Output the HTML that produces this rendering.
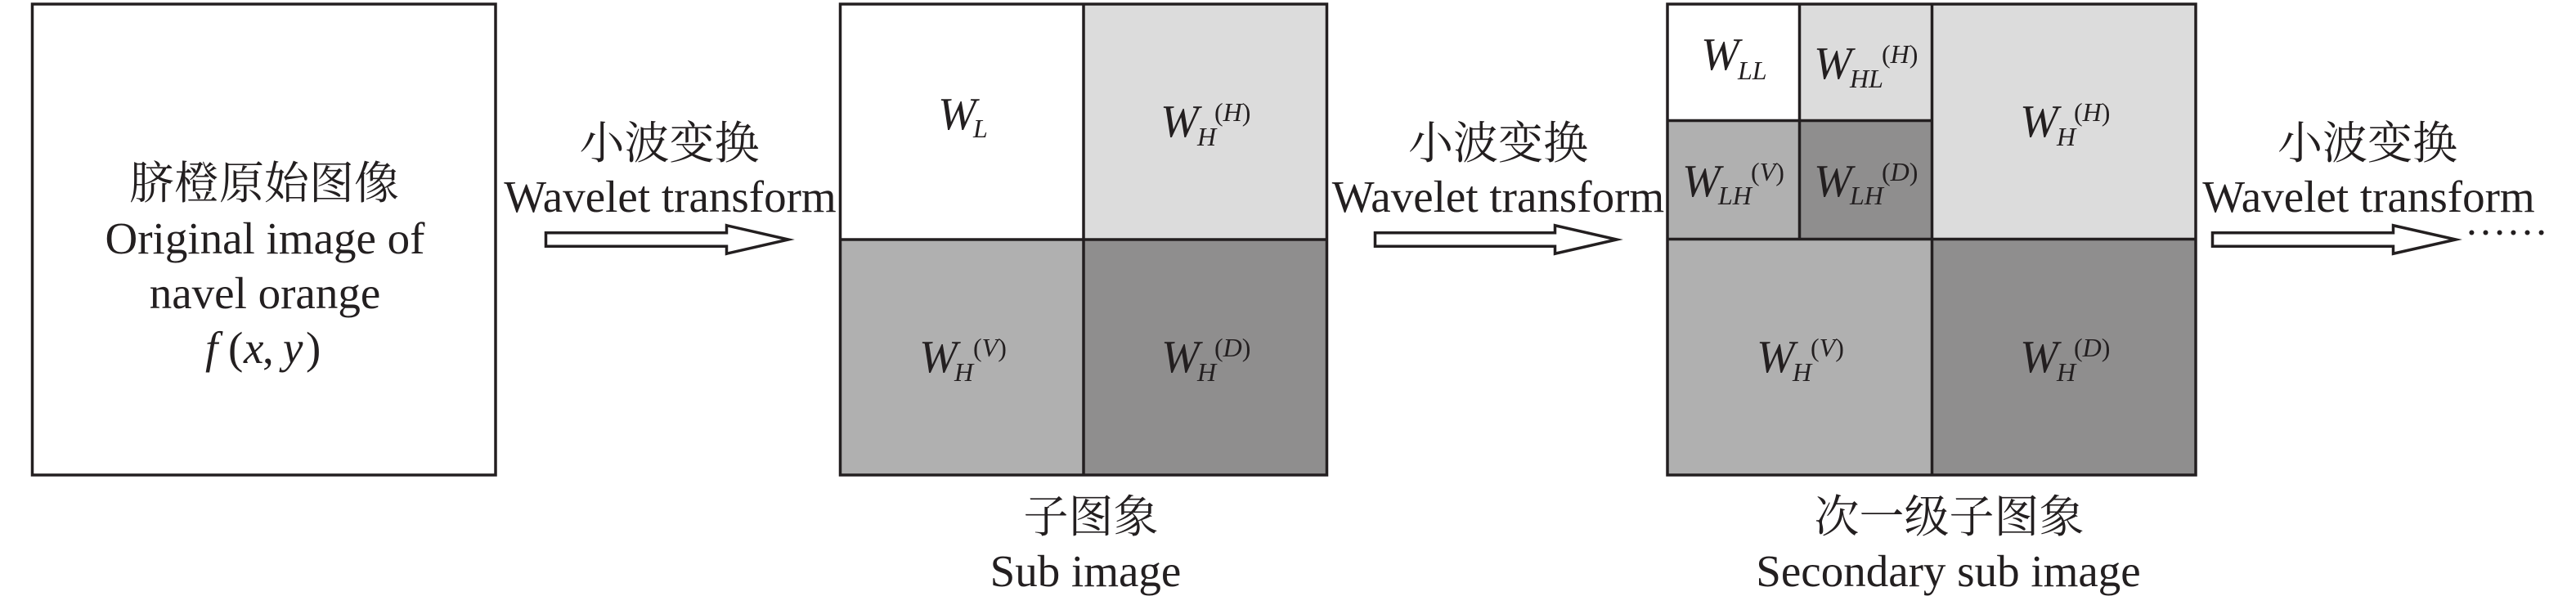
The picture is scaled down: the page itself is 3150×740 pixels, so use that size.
<!DOCTYPE html>
<html>
<head>
<meta charset="utf-8">
<style>
  html, body { margin: 0; padding: 0; background: #ffffff; }
  body { width: 3150px; height: 740px; overflow: hidden; }
  svg { display: block; }
  text { font-family: "Liberation Serif", "Noto Serif CJK SC", serif; fill: #231f20; }
  .big { font-size: 55px; }
  .W { font-size: 56px; font-style: italic; }
  .sub { font-size: 32px; font-style: italic; }
  .sup { font-size: 32px; }
  .it { font-style: italic; }
</style>
</head>
<body>
<svg width="3150" height="740" viewBox="0 0 3150 740" xmlns="http://www.w3.org/2000/svg">
  <!-- ============ Box 1 ============ -->
  <rect x="39.5" y="5" width="566.5" height="576" fill="#ffffff" stroke="#231f20" stroke-width="3.5"/>
  <text class="big" x="323" y="243" text-anchor="middle">脐橙原始图像</text>
  <text class="big" x="324" y="310" text-anchor="middle">Original image of</text>
  <text class="big" x="324" y="377" text-anchor="middle">navel orange</text>
  <text class="big"><tspan class="it" x="251" y="444">f</tspan><tspan x="279" y="444">(</tspan><tspan class="it" x="298" y="444">x</tspan><tspan x="321" y="444">,</tspan><tspan class="it" x="346" y="444">y</tspan><tspan x="374" y="444">)</tspan></text>

  <!-- ============ Arrow 1 ============ -->
  <text class="big" x="818.5" y="194" text-anchor="middle">小波变换</text>
  <text class="big" x="819.5" y="259" text-anchor="middle">Wavelet transform</text>
  <polygon points="667.5,284.75 888.5,284.75 888.5,275.75 964,293 888.5,310.25 888.5,301.25 667.5,301.25" fill="#ffffff" stroke="#231f20" stroke-width="3.5" stroke-linejoin="miter" stroke-miterlimit="10"/>

  <!-- ============ Box 2 ============ -->
  <rect x="1027.5" y="5" width="297.5" height="288" fill="#ffffff"/>
  <rect x="1325" y="5" width="297.5" height="288" fill="#dcdcdc"/>
  <rect x="1027.5" y="293" width="297.5" height="288" fill="#b0b0b0"/>
  <rect x="1325" y="293" width="297.5" height="288" fill="#8f8e8e"/>
  <rect x="1027.5" y="5" width="595" height="576" fill="none" stroke="#231f20" stroke-width="3.5"/>
  <line x1="1325" y1="5" x2="1325" y2="581" stroke="#231f20" stroke-width="3.5"/>
  <line x1="1027.5" y1="293" x2="1622.5" y2="293" stroke="#231f20" stroke-width="3.5"/>

  <!-- W_L -->
  <text class="W" x="1147" y="158">W</text>
  <text class="sub" x="1190" y="168">L</text>
  <!-- W_H^(H) -->
  <text class="W" x="1419" y="167">W</text>
  <text class="sub" x="1464" y="178">H</text>
  <text class="sup" x="1485" y="148">(<tspan class="it">H</tspan>)</text>
  <!-- W_H^(V) -->
  <text class="W" x="1124" y="455">W</text>
  <text class="sub" x="1167" y="466">H</text>
  <text class="sup" x="1190" y="436">(<tspan class="it">V</tspan>)</text>
  <!-- W_H^(D) -->
  <text class="W" x="1420" y="455">W</text>
  <text class="sub" x="1464" y="466">H</text>
  <text class="sup" x="1485" y="436">(<tspan class="it">D</tspan>)</text>

  <text class="big" x="1334" y="651" text-anchor="middle">子图象</text>
  <text class="big" x="1327.5" y="717" text-anchor="middle">Sub image</text>

  <!-- ============ Arrow 2 ============ -->
  <text class="big" x="1832" y="194" text-anchor="middle">小波变换</text>
  <text class="big" x="1832" y="259" text-anchor="middle">Wavelet transform</text>
  <polygon points="1681.5,284.75 1901.5,284.75 1901.5,275.75 1977,293 1901.5,310.25 1901.5,301.25 1681.5,301.25" fill="#ffffff" stroke="#231f20" stroke-width="3.5" stroke-linejoin="miter" stroke-miterlimit="10"/>

  <!-- ============ Box 3 ============ -->
  <rect x="2039" y="5" width="161.5" height="142.5" fill="#ffffff"/>
  <rect x="2200.5" y="5" width="162" height="142.5" fill="#dcdcdc"/>
  <rect x="2039" y="147.5" width="161.5" height="145" fill="#b0b0b0"/>
  <rect x="2200.5" y="147.5" width="162" height="145" fill="#8f8e8e"/>
  <rect x="2362.5" y="5" width="322.5" height="287.5" fill="#dcdcdc"/>
  <rect x="2039" y="292.5" width="323.5" height="288.5" fill="#b0b0b0"/>
  <rect x="2362.5" y="292.5" width="322.5" height="288.5" fill="#8f8e8e"/>
  <rect x="2039" y="5" width="646" height="576" fill="none" stroke="#231f20" stroke-width="3.5"/>
  <line x1="2362.5" y1="5" x2="2362.5" y2="581" stroke="#231f20" stroke-width="3.5"/>
  <line x1="2039" y1="292.5" x2="2685" y2="292.5" stroke="#231f20" stroke-width="3.5"/>
  <line x1="2200.5" y1="5" x2="2200.5" y2="292.5" stroke="#231f20" stroke-width="3.5"/>
  <line x1="2039" y1="147.5" x2="2362.5" y2="147.5" stroke="#231f20" stroke-width="3.5"/>

  <!-- W_LL -->
  <text class="W" x="2080" y="85">W</text>
  <text class="sub" x="2125" y="97">LL</text>
  <!-- W_HL^(H) -->
  <text class="W" x="2218" y="96">W</text>
  <text class="sub" x="2262" y="107">HL</text>
  <text class="sup" x="2301" y="77">(<tspan class="it">H</tspan>)</text>
  <!-- W_LH^(V) -->
  <text class="W" x="2057" y="240">W</text>
  <text class="sub" x="2101" y="250">LH</text>
  <text class="sup" x="2141" y="221">(<tspan class="it">V</tspan>)</text>
  <!-- W_LH^(D) -->
  <text class="W" x="2218" y="240">W</text>
  <text class="sub" x="2262" y="250">LH</text>
  <text class="sup" x="2301" y="221">(<tspan class="it">D</tspan>)</text>
  <!-- W_H^(H) big -->
  <text class="W" x="2470" y="167">W</text>
  <text class="sub" x="2515" y="178">H</text>
  <text class="sup" x="2536" y="148">(<tspan class="it">H</tspan>)</text>
  <!-- W_H^(V) big -->
  <text class="W" x="2148" y="455">W</text>
  <text class="sub" x="2192" y="466">H</text>
  <text class="sup" x="2214" y="436">(<tspan class="it">V</tspan>)</text>
  <!-- W_H^(D) big -->
  <text class="W" x="2470" y="455">W</text>
  <text class="sub" x="2515" y="466">H</text>
  <text class="sup" x="2536" y="436">(<tspan class="it">D</tspan>)</text>

  <text class="big" x="2383.5" y="651" text-anchor="middle">次一级子图象</text>
  <text class="big" x="2382.5" y="717" text-anchor="middle">Secondary sub image</text>

  <!-- ============ Arrow 3 ============ -->
  <text class="big" x="2895" y="194" text-anchor="middle">小波变换</text>
  <text class="big" x="2896.5" y="259" text-anchor="middle">Wavelet transform</text>
  <polygon points="2705.5,284.75 2926.5,284.75 2926.5,275.75 3003,293 2926.5,310.25 2926.5,301.25 2705.5,301.25" fill="#ffffff" stroke="#231f20" stroke-width="3.5" stroke-linejoin="miter" stroke-miterlimit="10"/>
  <text x="3014" y="287" style="font-family:'Liberation Serif',serif; font-size:51px;">……</text>
</svg>
</body>
</html>
